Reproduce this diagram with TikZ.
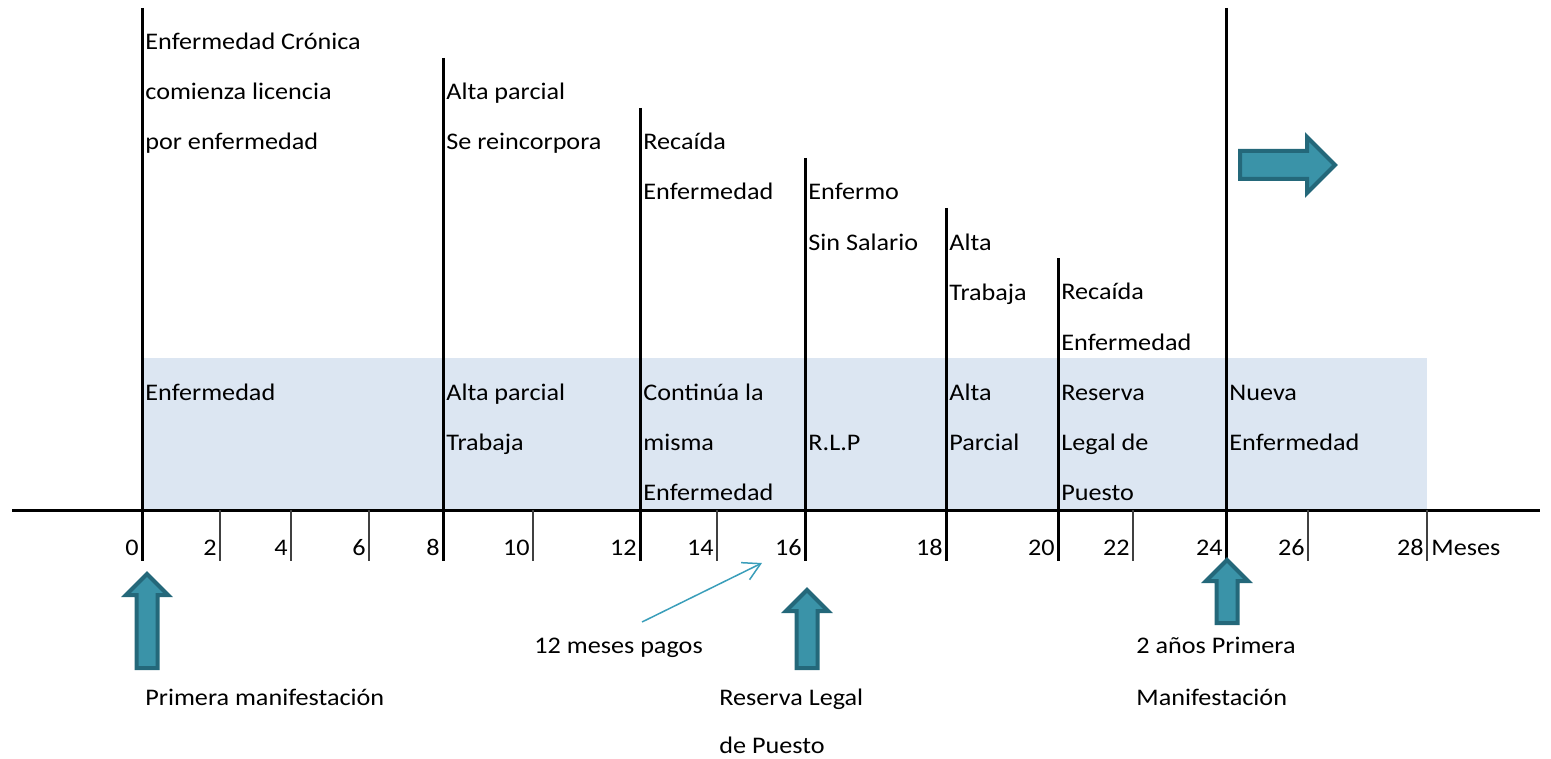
\documentclass[tikz,border=0pt]{standalone}
\usepackage{fontspec}
\setmainfont{Carlito}[FakeStretch=1.1]
\usetikzlibrary{arrows.meta}
\definecolor{bandblue}{RGB}{220,230,242}
\definecolor{arrfill}{RGB}{58,147,168}
\definecolor{arrdraw}{RGB}{36,104,122}
\definecolor{thinarr}{RGB}{58,158,186}
\tikzset{
  major/.style={line width=1.5pt, black},
  minor/.style={line width=0.75pt, black!75},
  axisline/.style={line width=1.5pt, black},
  txt/.style={anchor=base west, inner sep=0pt, align=left, font=\fontsize{11.9}{25}\selectfont},
  ticklbl/.style={anchor=base east, inner sep=0pt, font=\fontsize{11.9}{25}\selectfont},
  blockarrow/.style={fill=arrfill, draw=arrdraw, line width=2pt, line join=miter},
  pointer/.style={thinarr, line width=0.75pt, -{Straight Barb[length=8.5pt,width=9.5pt]}}
}
\newcommand\myUpArrow[3]{%
  \filldraw[blockarrow] (#1,#2) -- (#1+21,#2+21) -- (#1+10.5,#2+21) -- (#1+10.5,#3)
    -- (#1-10.5,#3) -- (#1-10.5,#2+21) -- (#1-21,#2+21) -- cycle;}
\begin{document}
\begin{tikzpicture}[x=0.5pt,y=-0.5pt]
\useasboundingbox (0,0) rectangle (1551,759);
% band
\fill[bandblue] (142,358) rectangle (1427,510);
% axis
\coordinate (axL) at (12,510);
\coordinate (axR) at (1540,510);
\draw[axisline] (axL) -- (axR);
% minor ticks
\foreach \n/\x in {2/220,4/291,6/369,10/533,14/717,22/1133,26/1308,28/1427}{
  \coordinate (mt\n) at (\x,510);
  \coordinate (mb\n) at (\x,561);
  \draw[minor] (mt\n) -- (mb\n);
}
% major lines
\foreach \n/\x/\t in {0/142/8,8/443/58,12/640/108,16/805/158,18/946/208,20/1058/258,24/1226/8}{
  \coordinate (t\n) at (\x,\t);
  \coordinate (b\n) at (\x,561);
  \draw[major] (t\n) -- (b\n);
}
% tick labels
\foreach \n/\x in {0/142,2/220,4/291,6/369,8/443,10/533,12/640,14/717,16/805,18/946,20/1058,22/1133,24/1226,26/1308,28/1427}{
  \node[ticklbl] (l\n) at (\x-3,555) {\n};
}
\node[txt] (meses) at (1431,555) {Meses};
% upper texts (base anchor = baseline of last line)
\node[txt] (c0) at (145,150) {Enfermedad Crónica\\comienza licencia\\por enfermedad};
\node[txt] (c8) at (446,150) {Alta parcial\\Se reincorpora};
\node[txt] (c12) at (643,200) {Recaída\\Enfermedad};
\node[txt] (c16) at (808,250) {Enfermo\\Sin Salario};
\node[txt] (c18) at (949,300) {Alta\\Trabaja};
\node[txt] (c20) at (1061,350) {Recaída\\Enfermedad};
% band texts
\node[txt] (d0) at (145,400) {Enfermedad};
\node[txt] (d8) at (446,450) {Alta parcial\\Trabaja};
\node[txt] (d12) at (643,500) {Continúa la\\misma\\Enfermedad};
\node[txt] (d16) at (808,450) {R.L.P};
\node[txt] (d18) at (949,450) {Alta\\Parcial};
\node[txt] (d20) at (1061,500) {Reserva\\Legal de\\Puesto};
\node[txt] (d24) at (1229,450) {Nueva\\Enfermedad};
% bottom texts
\node[txt] (pagos) at (534,653) {12 meses pagos};
\node[txt] (prim) at (145,705) {Primera manifestación};
\node[txt] (rlp1) at (719,705) {Reserva Legal};
\node[txt] (rlp2) at (719,753) {de Puesto};
\node[txt] (dos1) at (1136,653) {2 años Primera};
\node[txt] (dos2) at (1136,705) {Manifestación};
% thin arrow
\coordinate (ps) at (642,622);
\coordinate (pt) at (762,563);
\draw[pointer] (ps) -- (pt);
% block arrows
\myUpArrow{147}{574}{668}
\myUpArrow{807}{590}{668}
\myUpArrow{1227}{560}{623}
\filldraw[blockarrow] (1335,165) -- (1307,137) -- (1307,151) -- (1240,151) -- (1240,179)
  -- (1307,179) -- (1307,193) -- cycle;
\end{tikzpicture}
\end{document}
